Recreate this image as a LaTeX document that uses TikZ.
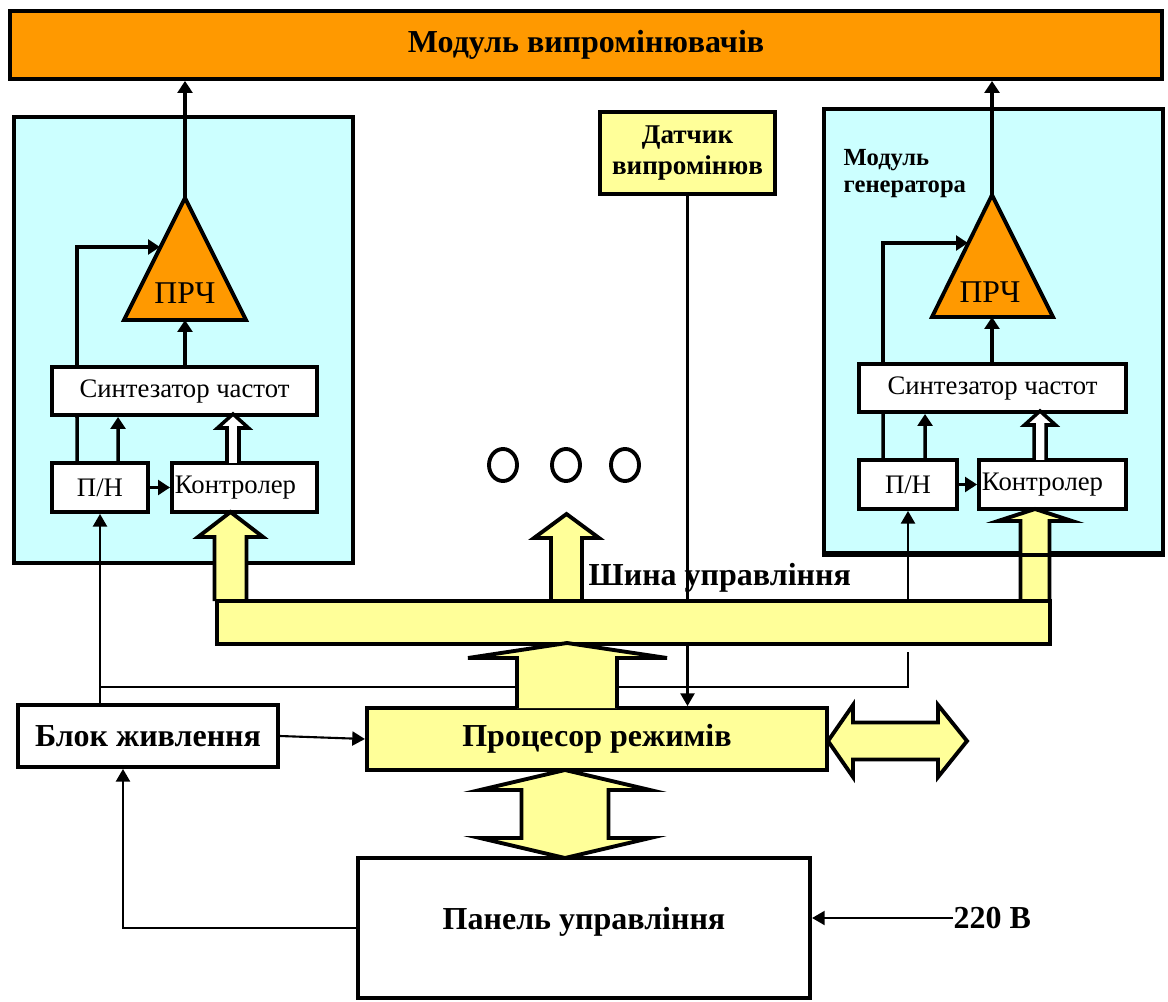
\documentclass[tikz,border=0pt]{standalone}
\usepackage{fontspec}
\setmainfont{Liberation Serif}
\usepackage{tikz}
\usetikzlibrary{arrows.meta}
\usetikzlibrary{shapes.geometric}

\definecolor{prcorange}{HTML}{FF9900}
\definecolor{modcyan}{HTML}{CCFFFF}
\definecolor{busyellow}{HTML}{FFFF99}

\begin{document}
\begin{tikzpicture}
  [x=0.01cm, y=-0.01cm,
   block/.style={draw=black, line width=1.1pt, fill=white, inner sep=0pt, font=\fontsize{9.1}{11}\selectfont\bfseries},
   unit/.style={draw=black, line width=1.1pt, fill=white, inner sep=0pt, font=\fontsize{7.6}{9}\selectfont},
   ctrlbox/.style={unit, inner xsep=0.03cm, text width=1.39cm, align=left},
   module/.style={draw=black, line width=1.1pt, fill=modcyan},
   amp/.style={draw=black, line width=1.1pt, fill=prcorange, line join=miter},
   fat/.style={draw=black, line width=1.1pt, fill=busyellow, line join=miter},
   hollow/.style={draw=black, line width=1pt, fill=white, line join=miter},
   sig/.style={line width=1pt, -{Triangle[length=3.4pt,width=4.2pt]}},
   sigline/.style={line width=1pt},
   feed/.style={line width=0.6pt, -{Triangle[length=3.6pt,width=4pt]}},
   feedline/.style={line width=0.6pt},
   ring/.style={draw=black, line width=1.1pt, ellipse, minimum width=0.28cm, minimum height=0.32cm, inner sep=0pt}]
  \useasboundingbox (0,0) rectangle (1168,1001);

  \node[block, fill=prcorange, minimum width=11.52cm, minimum height=0.68cm] (title) at (586,45) {Модуль випромінювачів};

  % modules
  \node[module, minimum width=3.39cm, minimum height=4.46cm] (modL) at (183.5,340) {};
  \node[module, minimum width=3.39cm, minimum height=4.44cm] (modR) at (993.5,331) {};

  % left module
  \coordinate (apexL) at (185,198);
  \coordinate (baseL) at (185,320);
  \coordinate (inL) at (160,247);
  \draw[amp] (apexL) -- (246,320) -- (124,320) -- cycle;
  \node[font=\fontsize{9}{10}\selectfont] (prcL) at (185,293) {ПРЧ};
  \node[unit, minimum width=2.65cm, minimum height=0.48cm] (synL) at (184.5,391) {Синтезатор частот};
  \node[unit, minimum width=0.96cm, minimum height=0.49cm] (pinL) at (100,487.5) {П/Н};
  \node[ctrlbox, minimum height=0.49cm] (ctrlL) at (244.5,487.5) {Контролер};
  \draw[sig] (apexL) -- (apexL |- title.south);
  \draw[sig] (synL.north -| baseL) -- (baseL);
  \draw[sig] ([xshift=0.27cm]synL.north west) |- (inL);
  \draw[sigline] ([xshift=0.27cm]pinL.north west) -- ([xshift=0.27cm]synL.south west);
  \draw[sig] ([xshift=0.68cm]pinL.north west) -- ([xshift=0.68cm]synL.south west);
  \draw[sig] (pinL) -- (ctrlL);
  \draw[hollow] (227,463) -- (227,428) -- (217.5,428) -- (233,414) -- (248.5,428) -- (239,428) -- (239,463);

  % right module
  \coordinate (apexR) at (992,195);
  \coordinate (baseR) at (992,317);
  \coordinate (inR) at (968,243);
  \draw[amp] (apexR) -- (1053,317) -- (932,317) -- cycle;
  \node[font=\fontsize{9}{10}\selectfont] (prcR) at (990,292) {ПРЧ};
  \node[anchor=north west, align=left, inner sep=0pt, font=\fontsize{7}{7.6}\selectfont\bfseries] (genlabel) at (843,149) {Модуль\\генератора};
  \node[unit, minimum width=2.67cm, minimum height=0.48cm] (synR) at (992.5,388) {Синтезатор частот};
  \node[unit, minimum width=0.98cm, minimum height=0.49cm] (pinR) at (908,484.5) {П/Н};
  \node[ctrlbox, text width=1.41cm, minimum height=0.49cm] (ctrlR) at (1052.5,484.5) {Контролер};
  \draw[sig] (apexR) -- (apexR |- title.south);
  \draw[sig] (synR.north -| baseR) -- (baseR);
  \draw[sig] ([xshift=0.26cm]synR.north west) |- (inR);
  \draw[sigline] ([xshift=0.26cm]pinR.north west) -- ([xshift=0.26cm]synR.south west);
  \draw[sig] ([xshift=0.68cm]pinR.north west) -- ([xshift=0.68cm]synR.south west);
  \draw[sig] (pinR) -- (ctrlR);
  \draw[hollow] (1034,460) -- (1034,425) -- (1024.5,425) -- (1040,411) -- (1055.5,425) -- (1046,425) -- (1046,460);

  % sensor and dots
  \node[block, fill=busyellow, align=center, minimum width=1.75cm, minimum height=0.82cm, font=\fontsize{7.7}{8.6}\selectfont\bfseries] (sensor) at (687.5,153) {Датчик\\випромінюв};
  \node[ring] (dot1) at (503,465) {};
  \node[ring] (dot2) at (566,465) {};
  \node[ring] (dot3) at (625,465) {};

  % lower blocks
  \node[block, fill=busyellow, minimum width=4.6cm, minimum height=0.62cm] (proc) at (597,739) {Процесор режимів};
  \node[block, minimum width=2.6cm, minimum height=0.62cm] (power) at (148,736) {Блок живлення};
  \node[block, minimum width=4.52cm, minimum height=1.40cm, text depth=0.2cm] (panel) at (584,928) {Панель управління};
  \node[anchor=west, inner sep=0pt, font=\fontsize{9.1}{11}\selectfont\bfseries] (volt) at (953,918) {220 В};

  \draw[feed] (sensor.south) -- (sensor.south |- proc.north);

  % supply lines
  \coordinate (jL) at (100,687);
  \coordinate (jR) at (908,687);
  \coordinate (jRtop) at (908,652);
  \draw[feedline] (jL) -- (jR) -- (jRtop);
  \draw[feed] (power.north -| pinL.south) -- (pinL.south);
  \draw[feed] (pinR.south |- 0,601) -- (pinR.south);

  % bus arrows
  \draw[fat] (214.5,601) -- (214.5,537) -- (198,537) -- (230.5,512) -- (263,537) -- (246.5,537) -- (246.5,601);
  \draw[fat] (551,601) -- (551,538) -- (534,538) -- (566.5,514) -- (599,538) -- (582,538) -- (582,601);
  \draw[fat] (1020.5,601) -- (1020.5,521) -- (998,521) -- (1035,509) -- (1072,521) -- (1049.5,521) -- (1049.5,601);
  \draw[line width=1.1pt] (modR.south west) -- (modR.south east);

  \node[draw=black, line width=1.1pt, fill=busyellow, minimum width=8.33cm, minimum height=0.43cm] (bus) at (633.5,622.5) {};
  \node[anchor=base west, inner sep=0pt, font=\fontsize{9.1}{11}\selectfont\bfseries] (buslabel) at (588,585) {Шина управління};

  \draw[fat] (517,708) -- (517,658) -- (468,658) -- (567,643) -- (667,658) -- (617,658) -- (617,708);
  \draw[fat] (565,770) -- (650,790) -- (608.5,790) -- (608.5,838) -- (650,838) -- (565,858) -- (480,838) -- (521.5,838) -- (521.5,790) -- (480,790) -- cycle;
  \draw[fat] (828,741) -- (853,705) -- (853,722.5) -- (938,722.5) -- (938,705) -- (967,741) -- (938,777) -- (938,759.5) -- (853,759.5) -- (853,777) -- cycle;

  \draw[feed] (power.east) -- (proc.west);
  \draw[feed] (panel.west) -| ([xshift=-0.25cm]power.south);
  \draw[feed] (volt.west) -- (panel.east |- volt.west);
\end{tikzpicture}
\end{document}
